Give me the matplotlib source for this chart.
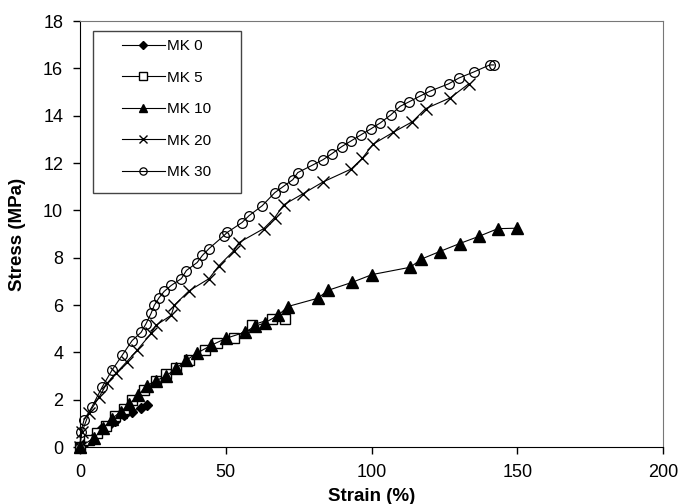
import matplotlib
matplotlib.use('Agg')
import matplotlib.pyplot as plt
from matplotlib.patches import Rectangle

plt.rcParams['font.family'] = ['Liberation Sans', 'DejaVu Sans']

# strain (%) and stress (MPa) per mix
mk0_x = [0, 2, 4.8, 7.6, 10, 12, 15, 18, 21, 23]
mk0_y = [0, 0.2, 0.42, 0.8, 0.95, 1.1, 1.35, 1.5, 1.65, 1.77]

mk5_x = [0, 3, 6, 9, 12, 15, 18, 22, 26, 29.6, 33, 37.5, 43, 47, 53, 59, 66, 70.2]
mk5_y = [0, 0.3, 0.6, 0.9, 1.3, 1.6, 2.0, 2.4, 2.8, 3.1, 3.35, 3.67, 4.1, 4.4, 4.6, 5.15, 5.43, 5.43]

mk10_x = [0, 5, 8, 11, 14, 17, 20, 23, 26, 29.5, 33, 36.5, 40, 45, 50.2, 56.5, 60, 63.4,
          68, 71.3, 81.6, 85, 93.3, 100.2, 113.3, 117, 123.3, 130.2, 136.7, 143.3, 150]
mk10_y = [0, 0.4, 0.8, 1.2, 1.5, 1.8, 2.2, 2.6, 2.8, 3.0, 3.33, 3.67, 3.96, 4.3, 4.6, 4.85, 5.1, 5.25,
          5.57, 5.94, 6.29, 6.62, 6.96, 7.29, 7.6, 7.94, 8.26, 8.6, 8.9, 9.23, 9.25]

mk20_x = [0, 0.7, 3.1, 6.5, 9.3, 12.4, 16, 19.6, 24.4, 26, 31.3, 32.4, 37.4, 44.3, 47.7, 52.8,
          54.5, 63, 66.8, 69.9, 76.4, 83.3, 93, 96.8, 100.5, 107.4, 114, 118.5, 127, 133.3]
mk20_y = [0, 0.63, 1.43, 2.1, 2.7, 3.12, 3.6, 4.09, 4.8, 5.14, 5.57, 6.0, 6.6, 7.12, 7.67, 8.3,
          8.64, 9.23, 9.7, 10.24, 10.7, 11.2, 11.75, 12.2, 12.8, 13.3, 13.75, 14.3, 14.76, 15.35]

mk30_x = [0, 0.3, 1.4, 4.1, 7.6, 11, 14.5, 17.9, 21, 22.7, 24.4, 25.5, 27.2, 28.9, 31.3, 34.8,
          36.5, 40.2, 42, 44.3, 49.4, 50.5, 55.6, 58, 62.5, 66.8, 69.6, 73, 74.7, 79.5, 83.3,
          86.4, 89.8, 93, 96.4, 99.8, 103, 106.6, 109.8, 113, 116.7, 120.2, 126.4, 130, 135,
          140.5, 141.9]
mk30_y = [0, 0.63, 1.14, 1.69, 2.53, 3.25, 3.88, 4.5, 4.85, 5.22, 5.65, 5.99, 6.32, 6.58, 6.83, 7.12,
          7.46, 7.8, 8.1, 8.39, 8.94, 9.07, 9.49, 9.78, 10.2, 10.75, 11.0, 11.3, 11.6, 11.9, 12.14,
          12.4, 12.7, 12.94, 13.2, 13.45, 13.7, 14.04, 14.4, 14.6, 14.84, 15.05, 15.35, 15.6, 15.85,
          16.15, 16.15]

fig = plt.figure(figsize=(6.83, 5.04), dpi=100)
fig.set_facecolor('white')
ax = fig.add_axes([0.117, 0.113, 0.854, 0.845])

lw = 0.8
ax.plot(mk0_x, mk0_y, color='black', lw=lw, marker='D', ms=5, mfc='black', mec='black',
        label='MK 0', clip_on=False, zorder=3)
ax.plot(mk5_x, mk5_y, color='black', lw=lw, marker='s', ms=7, mfc='white', mec='black', mew=1,
        label='MK 5', clip_on=False, zorder=3)
ax.plot(mk10_x, mk10_y, color='black', lw=lw, marker='^', ms=8, mfc='black', mec='black',
        label='MK 10', clip_on=False, zorder=3)
ax.plot(mk20_x, mk20_y, color='black', lw=lw, marker='x', ms=8, mew=1,
        label='MK 20', clip_on=False, zorder=3)
ax.plot(mk30_x, mk30_y, color='black', lw=lw, marker='o', ms=7, mfc='none', mec='black', mew=0.9,
        label='MK 30', clip_on=False, zorder=3)

ax.set_xlim(0, 200)
ax.set_ylim(0, 18)
ax.set_xticks([0, 50, 100, 150, 200])
ax.set_yticks(range(0, 19, 2))
ax.tick_params(direction='out', length=5, width=1, labelsize=13)
ax.tick_params(axis='y', pad=7)
ax.tick_params(axis='x', pad=7)
ax.set_xlabel('Strain (%)', fontsize=13.5, fontweight='bold', labelpad=5)
ax.set_ylabel('Stress (MPa)', fontsize=13.5, fontweight='bold', labelpad=12)

ax.spines['left'].set_color('black')
ax.spines['bottom'].set_color('black')
ax.spines['top'].set_color('#777777')
ax.spines['right'].set_color('#777777')

# legend frame drawn by hand to get the wide side padding of the original
ax.add_patch(Rectangle((0.0223, 0.596), 0.254, 0.3805, transform=ax.transAxes,
                       fill=True, facecolor='white', edgecolor='#444444', lw=1.0, zorder=4))
leg = ax.legend(loc='upper left', bbox_to_anchor=(0.072, 0.958), fontsize=11, frameon=False,
                handlelength=2.8, labelspacing=1.15, borderpad=0, borderaxespad=0,
                handletextpad=0.15, markerscale=0.75)
leg.set_zorder(5)

fig.savefig('out.png', dpi=100)
